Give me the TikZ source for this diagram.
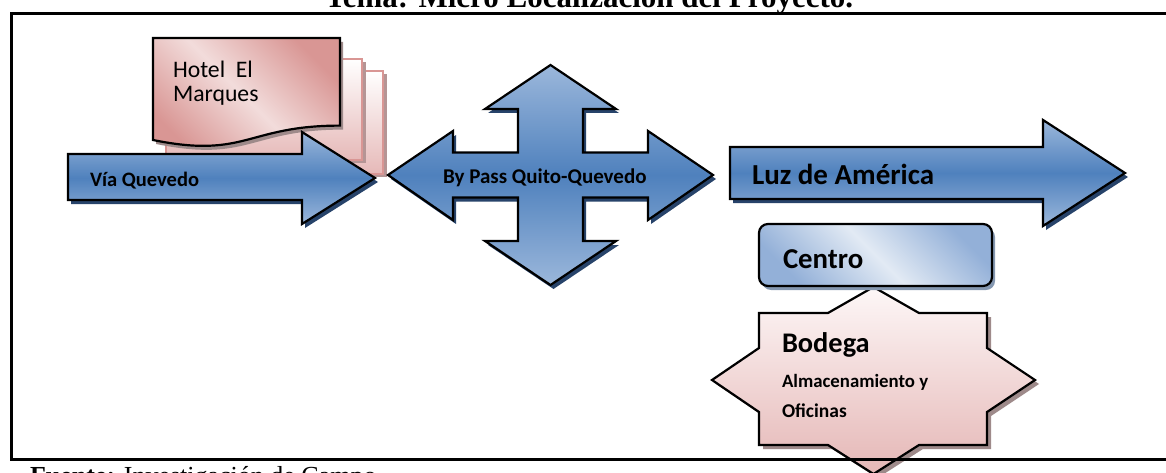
\documentclass[tikz,border=0pt]{standalone}
\usepackage{fontspec}
\setmainfont{Liberation Serif}
\newfontfamily\calibrifont{Carlito}
\usetikzlibrary{shadows}
\definecolor{blueD}{HTML}{4F81BD}
\definecolor{blueL}{HTML}{9BB7DB}
\definecolor{navyshadow}{HTML}{27436A}
\definecolor{boxL}{HTML}{E2EAF4}
\definecolor{boxD}{HTML}{93B0D8}
\definecolor{boxshadow}{HTML}{8497B0}
\definecolor{pinkD}{HTML}{D99694}
\definecolor{pinkL}{HTML}{F2DCDB}
\definecolor{pinkB}{HTML}{D99694}
\definecolor{pinkM}{HTML}{E6B9B8}
\definecolor{starT}{HTML}{FDF7F7}
\definecolor{starB}{HTML}{E5B7B6}
\definecolor{pinkshadow}{HTML}{9E8A8A}
\definecolor{pageshadow}{HTML}{B59595}
\tikzset{
  every node/.style={inner sep=0pt, outer sep=0pt},
  outl/.style={draw=black, line width=2.2pt, line join=miter},
  blueshape/.style={outl, top color=blueL, bottom color=blueL, middle color=blueD,
     drop shadow={shadow xshift=3pt, shadow yshift=-4pt, fill=navyshadow, opacity=1}},
  boxshape/.style={outl, top color=boxD, bottom color=boxD, middle color=boxL, shading angle=-45,
     drop shadow={shadow xshift=3pt, shadow yshift=-4pt, fill=boxshadow, opacity=1}},
  hotelshape/.style={outl, top color=pinkD, bottom color=pinkD, middle color=pinkL, shading angle=-45,
     drop shadow={shadow xshift=3pt, shadow yshift=-4pt, fill=pinkshadow, opacity=1}},
  pageshape/.style={draw=pinkB, line width=1.7pt, top color=white, bottom color=pinkM,
     drop shadow={shadow xshift=3.5pt, shadow yshift=-3.5pt, fill=pageshadow, opacity=1}},
  starshape/.style={outl, top color=starT, bottom color=starB,
     drop shadow={shadow xshift=4pt, shadow yshift=-4pt, fill=pinkshadow, opacity=1}},
  lbl/.style={anchor=base west, font=\calibrifont\bfseries\fontsize{#1}{#1}\selectfont},
  lblr/.style={anchor=base west, font=\calibrifont\fontsize{#1}{#1}\selectfont},
  frameline/.style={draw=black, line width=3.6pt}
}
\begin{document}
\begin{tikzpicture}[x=1pt,y=-1pt]
\useasboundingbox (0,0) rectangle (1166,473);
% title and footer
\node[anchor=base west, font=\bfseries\fontsize{31}{31}\selectfont] (title) at (325,7.5) {Tema: Micro Localización del Proyecto.};
\node[anchor=base west, font=\fontsize{26}{26}\selectfont] (fuente) at (30,484) {\textbf{Fuente:} Investigación de Campo};
% Hotel El Marques (multi-document)
\path[pageshape] (178,71) rectangle (383,174);
\path[pageshape] (166,59) rectangle (362,160);
\path[hotelshape] (153,38) -- (340,38) -- (340,125.6) .. controls (246.5,125.6) and (246.5,159) .. (153,140) -- cycle;
\node[lblr=23.7] (hotelA) at (173,78) {Hotel~~El};
\node[lblr=23.7] (hotelB) at (173,102) {Marques};
% Via Quevedo arrow
\path[blueshape] (68,154) -- (302,154) -- (302,132) -- (375,178) -- (302,224) -- (302,200) -- (68,200) -- cycle;
\node[lbl=20.5] (via) at (90,186) {Vía Quevedo};
% By Pass cross arrow
\path[blueshape] (550.5,65) -- (616,109) -- (583,109) -- (583,152.5) -- (648,152.5) -- (648,131)
  -- (713,175) -- (648,220) -- (648,197.5) -- (583,197.5) -- (583,241) -- (616,241)
  -- (550.5,285) -- (485,241) -- (518,241) -- (518,197.5) -- (453,197.5) -- (453,220)
  -- (388,175) -- (453,131) -- (453,152.5) -- (518,152.5) -- (518,109) -- (485,109) -- cycle;
\node[lbl=21] (bypass) at (443,183) {By Pass Quito-Quevedo};
% Luz de America arrow
\path[blueshape] (730,147) -- (1043,147) -- (1043,120) -- (1125,173) -- (1043,226) -- (1043,199) -- (730,199) -- cycle;
\node[lbl=29] (luz) at (752,185) {Luz de América};
% Bodega star
\path[starshape] (873.5,287) -- (919,313) -- (987,313) -- (987,348) -- (1035,380) -- (987,412)
  -- (987,445) -- (919,445) -- (873.5,474) -- (828,445) -- (759,445) -- (759,412)
  -- (712,380) -- (759,348) -- (759,313) -- (828,313) -- cycle;
\node[lbl=28.4] (bodega) at (782,352) {Bodega};
\node[lbl=18.8] (alm) at (782,387) {Almacenamiento y};
\node[lbl=19.5] (ofi) at (782,417) {Oficinas};
% Centro box
\path[boxshape, rounded corners=9pt] (759,224) rectangle (992,286);
\node[lbl=28.8] (centro) at (783,268) {Centro};
% frame
\path[frameline] (11.5,13.5) rectangle (1190,459.5);
\end{tikzpicture}
\end{document}
